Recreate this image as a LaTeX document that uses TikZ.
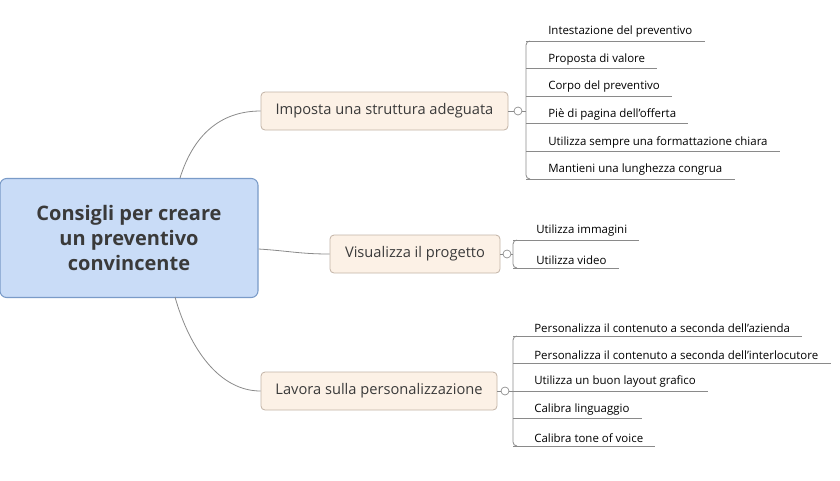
\documentclass[tikz,border=0pt]{standalone}
\usepackage{fontspec}
\setmainfont{Open Sans}
\begin{document}
\begin{tikzpicture}[x=0.75pt,y=-0.75pt,
  central/.style={draw=cbord,fill=cfill,rounded corners=5pt,line width=0.8pt,minimum width=258*0.75pt,minimum height=119*0.75pt,align=center,font=\fontsize{15}{19}\selectfont\bfseries,text=txt},
  topic/.style={draw=tbord,fill=tfill,rounded corners=3pt,line width=0.6pt,minimum height=38*0.75pt,inner xsep=10pt,font=\fontsize{11}{13}\selectfont,text=txt},
  leaf/.style={anchor=south west,inner xsep=0pt,inner ysep=2.5pt,font=\fontsize{8.6}{10}\selectfont,text=black},
  ln/.style={draw=lcol,line width=0.6pt},
  col/.style={draw=lcol,fill=white,line width=0.5pt}]
\definecolor{cfill}{HTML}{C9DCF7}\definecolor{cbord}{HTML}{7A9BC8}
\definecolor{tfill}{HTML}{FCF1E6}\definecolor{tbord}{HTML}{C2B3A6}
\definecolor{txt}{HTML}{3A3A3A}\definecolor{lcol}{HTML}{8A8A8A}
\useasboundingbox (0,0) rectangle (840,480);
\node[central] (c) at (129,238) {Consigli per creare\\un preventivo\\convincente};
\node[topic,minimum width=247*0.75pt] (t1) at (384.5,111) {Imposta una struttura adeguata};
\node[topic,minimum width=170*0.75pt] (t2) at (415,254) {Visualizza il progetto};
\node[topic,minimum width=236*0.75pt] (t3) at (379,391) {Lavora sulla personalizzazione};
\coordinate (c1) at (180,178);\coordinate (c3) at (175,297);
\draw[ln] (c1) .. controls (195,130) and (225,111) .. (t1.west);
\draw[ln] (c.east |- 0,249) .. controls (290,251) and (300,254) .. (t2.west);
\draw[ln] (c3) .. controls (190,350) and (220,391) .. (t3.west);
% group 1
\foreach \t [count=\i] in {Intestazione del preventivo,Proposta di valore,Corpo del preventivo,Pi\`e di pagina dell'offerta,Utilizza sempre una formattazione chiara,Mantieni una lunghezza congrua}{
  \node[leaf] (a\i) at (548,{41+27.6*(\i-1)}) {\t};
  \draw[ln] (526,{41+27.6*(\i-1)}) -- ([xshift=9pt]a\i.south east);}
\draw[ln,rounded corners=3pt] (530,41) -- (526,41) -- (526,179) -- (530,179);
\coordinate (b1) at (526,111);
\draw[ln] (t1.east) -- (b1);
\draw[col] (518,111) circle (4);
% group 2
\foreach \t [count=\i] in {Utilizza immagini,Utilizza video}{
  \node[leaf] (v\i) at (536,{240+28*(\i-1)}) {\t};
  \draw[ln] (513,{240+28*(\i-1)}) -- ([xshift=9pt]v\i.south east);}
\draw[ln,rounded corners=3pt] (517,240) -- (513,240) -- (513,268) -- (517,268);
\coordinate (b2) at (513,254);
\draw[ln] (t2.east) -- (b2);
\draw[col] (507,254) circle (4);
% group 3
\foreach \t [count=\i] in {Personalizza il contenuto a seconda dell'azienda,Personalizza il contenuto a seconda dell'interlocutore,Utilizza un buon layout grafico,Calibra linguaggio,Calibra tone of voice}{
  \node[leaf] (p\i) at (534,{336+27.5*(\i-1)}) {\t};
  \draw[ln] (513,{336+27.5*(\i-1)}) -- ([xshift=9pt]p\i.south east);}
\draw[ln,rounded corners=3pt] (517,336) -- (513,336) -- (513,446) -- (517,446);
\coordinate (b3) at (513,391);
\draw[ln] (t3.east) -- (b3);
\draw[col] (505,391) circle (4);
\end{tikzpicture}
\end{document}
